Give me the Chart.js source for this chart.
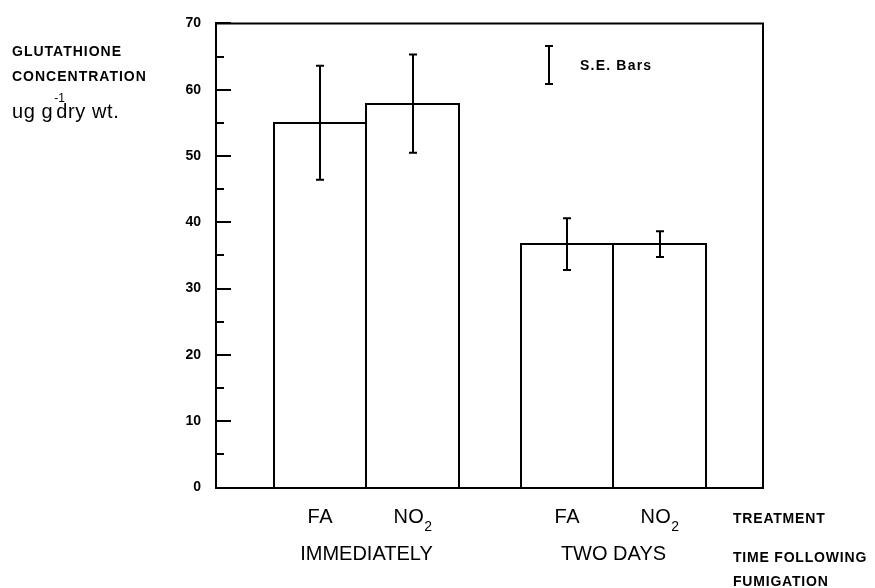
<!DOCTYPE html>
<html>
<head>
<meta charset="utf-8">
<title>Glutathione concentration</title>
<script src="https://cdn.jsdelivr.net/npm/chart.js@4/dist/chart.umd.min.js"></script>
<style>
  html, body { margin: 0; padding: 0; background: #fff; }
  canvas { display: block; }
</style>
</head>
<body>
<canvas id="chart" width="875" height="588"></canvas>
<script>
// Time following fumigation (groups) and treatments (bars in each group)
const groupLabels = ['IMMEDIATELY', 'TWO DAYS'];
const treatmentNames = ['FA', 'NO2'];

// Glutathione concentration, ug g-1 dry wt., with standard errors
const faMeans = [55.0, 36.7];
const no2Means = [57.9, 36.7];
const faSE = [8.6, 3.9];
const no2SE = [7.4, 1.95];

// Y axis: labelled values and minor tick step
const yTickLabels = [0, 10, 20, 30, 40, 50, 60, 70];
const yMinorStep = 5;

const FONT = '"Liberation Sans", Arial, Helvetica, sans-serif';
const INK = '#000';

function drawText(ctx, s, x, y, font, spacing, align) {
  ctx.save();
  ctx.font = font;
  ctx.letterSpacing = (spacing || 0) + 'px';
  ctx.textAlign = align || 'left';
  ctx.textBaseline = 'alphabetic';
  ctx.fillStyle = INK;
  ctx.fillText(s, x, y);
  const w = ctx.measureText(s).width;
  ctx.restore();
  return w;
}

function measure(ctx, s, font, spacing) {
  ctx.save();
  ctx.font = font;
  ctx.letterSpacing = (spacing || 0) + 'px';
  const w = ctx.measureText(s).width;
  ctx.restore();
  return w;
}

// Frame, inward tick marks, bar outlines, error bars, treatment names and side captions
const decorations = {
  id: 'decorations',
  afterDatasetsDraw(chart) {
    const ctx = chart.ctx;
    const area = chart.chartArea;
    const y = chart.scales.y;

    ctx.save();
    ctx.strokeStyle = INK;
    ctx.lineWidth = 2;
    ctx.lineCap = 'square';

    // top and right sides of the frame
    ctx.beginPath();
    ctx.moveTo(area.left, area.top);
    ctx.lineTo(area.right, area.top);
    ctx.lineTo(area.right, area.bottom);
    ctx.stroke();

    // bar outlines (neighbouring bars share one edge)
    ctx.lineCap = 'butt';
    chart.data.datasets.forEach((ds, di) => {
      const meta = chart.getDatasetMeta(di);
      meta.data.forEach(bar => {
        const half = bar.width / 2;
        const l = Math.round(bar.x - half), r = Math.round(bar.x + half);
        const t = Math.round(bar.y), b = Math.round(bar.base);
        ctx.beginPath();
        ctx.moveTo(l, b); ctx.lineTo(l, t - 1);
        ctx.moveTo(l - 1, t); ctx.lineTo(r + 1, t);
        ctx.moveTo(r, t - 1); ctx.lineTo(r, b);
        ctx.stroke();
      });
    });

    // inward ticks on the value axis
    y.ticks.forEach(t => {
      if (t.value === y.min) return;
      const py = Math.round(y.getPixelForValue(t.value));
      const len = yTickLabels.includes(t.value) ? 15 : 8;
      ctx.beginPath();
      ctx.moveTo(area.left, py);
      ctx.lineTo(area.left + len, py);
      ctx.stroke();
    });

    // standard error bars
    chart.data.datasets.forEach((ds, di) => {
      const meta = chart.getDatasetMeta(di);
      meta.data.forEach((bar, i) => {
        const m = ds.data[i].y;
        const se = ds.se[i];
        const top = y.getPixelForValue(m + se);
        const bot = y.getPixelForValue(m - se);
        const x = Math.round(bar.x);
        ctx.beginPath();
        ctx.moveTo(x, top); ctx.lineTo(x, bot);
        ctx.moveTo(x - 4, top); ctx.lineTo(x + 4, top);
        ctx.moveTo(x - 4, bot); ctx.lineTo(x + 4, bot);
        ctx.stroke();
      });
    });

    // key for the error bars
    const kx = area.left + 333, kt = area.top + 22.5, kb = area.top + 60.5;
    ctx.beginPath();
    ctx.moveTo(kx, kt); ctx.lineTo(kx, kb);
    ctx.moveTo(kx - 4, kt); ctx.lineTo(kx + 4, kt);
    ctx.moveTo(kx - 4, kb); ctx.lineTo(kx + 4, kb);
    ctx.stroke();
    ctx.restore();
    drawText(ctx, 'S.E. Bars', kx + 31, area.top + 47, 'bold 14px ' + FONT, 1.2);

    // treatment names under each bar (trailing digits as subscript)
    const mainFont = '20px ' + FONT;
    const subFont = '14px ' + FONT;
    const nameBase = area.bottom + 35.5;
    chart.data.datasets.forEach((ds, di) => {
      const meta = chart.getDatasetMeta(di);
      const parts = ds.label.match(/^(.*?)(\d*)$/);
      const w1 = measure(ctx, parts[1], mainFont, 0.4);
      const w2 = parts[2] ? measure(ctx, parts[2], subFont, 0) : 0;
      meta.data.forEach(bar => {
        const x0 = bar.x - (w1 + w2) / 2;
        drawText(ctx, parts[1], x0, nameBase, mainFont, 0.4);
        if (parts[2]) drawText(ctx, parts[2], x0 + w1, nameBase + 8, subFont, 0);
      });
    });

    // value axis caption
    const capFont = 'bold 14px ' + FONT;
    drawText(ctx, 'GLUTATHIONE', 12, 55.5, capFont, 1);
    drawText(ctx, 'CONCENTRATION', 12, 81, capFont, 1);
    const unitFont = '20px ' + FONT;
    const wug = drawText(ctx, 'ug g', 12, 117.5, unitFont, 0.6);
    drawText(ctx, '-1', 12 + wug + 1, 102, '12px ' + FONT, 0);
    drawText(ctx, 'dry wt.', 12 + wug + 3, 117.5, unitFont, 0.6);

    // category axis captions on the right
    const rx = area.right - 30;
    drawText(ctx, 'TREATMENT', rx, nameBase - 0.5, capFont, 0.8);
    drawText(ctx, 'TIME FOLLOWING', rx, area.bottom + 74, capFont, 0.8);
    drawText(ctx, 'FUMIGATION', rx, area.bottom + 98, capFont, 0.8);
  }
};

function groupPoints(values) {
  return values.map((v, i) => ({ x: i + 1, y: v }));
}

const barStyle = {
  backgroundColor: '#fff',
  borderColor: INK,
  borderWidth: 0,
  inflateAmount: 0
};

new Chart(document.getElementById('chart'), {
  type: 'bar',
  data: {
    datasets: [
      Object.assign({ label: treatmentNames[0], data: groupPoints(faMeans), se: faSE }, barStyle),
      Object.assign({ label: treatmentNames[1], data: groupPoints(no2Means), se: no2SE }, barStyle)
    ]
  },
  options: {
    responsive: false,
    animation: false,
    events: [],
    layout: { padding: { top: 18, left: 0, right: 112, bottom: 0 } },
    datasets: {
      bar: { categoryPercentage: 0.749, barPercentage: 1 }
    },
    plugins: {
      colors: { enabled: false },
      legend: { display: false },
      tooltip: { enabled: false }
    },
    scales: {
      x: {
        type: 'linear',
        offset: false,
        min: 0.3907,
        max: 2.6053,
        afterBuildTicks(scale) {
          scale.ticks = groupLabels.map((_, i) => ({ value: i + 1 }));
        },
        afterFit(scale) { scale.height = 100.5; },
        grid: { display: true, drawOnChartArea: false, drawTicks: false, offset: false },
        border: { display: true, color: INK, width: 2 },
        ticks: {
          autoSkip: false,
          maxRotation: 0,
          padding: 55,
          color: INK,
          font: { family: FONT, size: 20 },
          callback: (v) => groupLabels[Math.round(v) - 1] || ''
        }
      },
      y: {
        min: 0,
        max: 70,
        afterFit(scale) { scale.width = 216; },
        grid: { display: true, drawOnChartArea: false, drawTicks: false },
        border: { display: true, color: INK, width: 2 },
        ticks: {
          stepSize: yMinorStep,
          autoSkip: false,
          padding: 15,
          color: INK,
          font: { family: FONT, size: 14, weight: 'bold' },
          callback: (v) => yTickLabels.includes(v) ? String(v) : ''
        }
      }
    }
  },
  plugins: [decorations]
});
</script>
</body>
</html>
